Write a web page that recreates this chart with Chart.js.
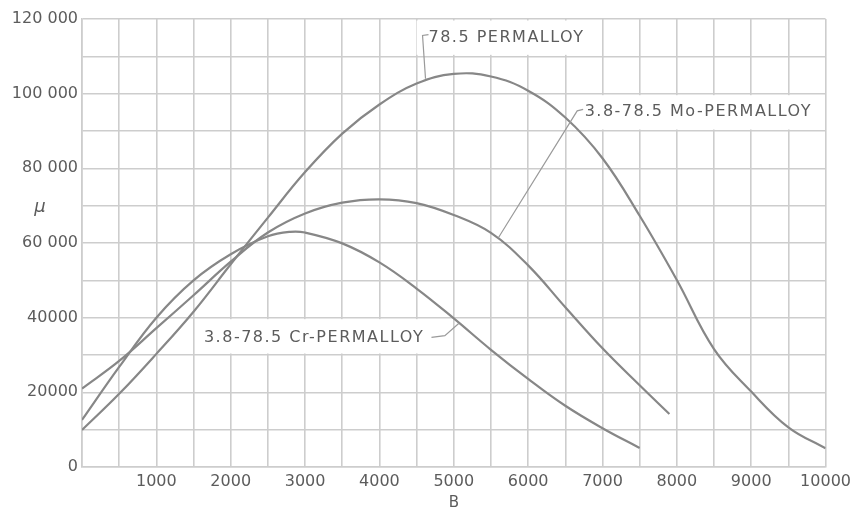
<!DOCTYPE html>
<html lang="en">
<head>
  <meta charset="UTF-8">
  <title>Permalloy permeability vs B</title>
  <style>
    body {
      margin: 0;
      background-color: white;
    }
    #chart {
      display: block;
    }
  </style>
</head>
<body>
  <canvas id="chart" width="856" height="510"></canvas>

  <script src="https://cdn.jsdelivr.net/npm/chart.js"></script>
  <script>
    // values
    const permB = [0, 500, 1000, 1500, 2000, 2500, 3000, 3500, 4000, 4500, 5000, 5500, 6000, 6500, 7000, 7500, 8000, 8500, 9000, 9500, 10000];
    const permMu = [9900, 19600, 30300, 41600, 54300, 66800, 79000, 89300, 97100, 102700, 105300, 104600, 100800, 93600, 82700, 67300, 50100, 31600, 20200, 10600, 5000];

    const moB = [0, 500, 1000, 1500, 2000, 2500, 3000, 3500, 4000, 4500, 5000, 5500, 6000, 6500, 7000, 7500, 7900];
    const moMu = [21000, 28400, 37200, 46000, 55000, 62800, 67900, 70800, 71700, 70700, 67500, 62700, 54000, 42800, 31800, 21900, 14200];

    const crB = [0, 500, 1000, 1500, 2000, 2500, 2800, 3000, 3500, 4000, 4500, 5000, 5500, 6000, 6500, 7000, 7500];
    const crMu = [12600, 26800, 40000, 50000, 57000, 61800, 63000, 62800, 59900, 54800, 47800, 39800, 31400, 23600, 16400, 10400, 5100];

    const tickValuesX = [1000, 2000, 3000, 4000, 5000, 6000, 7000, 8000, 9000, 10000];
    const tickLabelsX = ['1000', '2000', '3000', '4000', '5000', '6000', '7000', '8000', '9000', '10000'];
    const tickValuesY = [0, 20000, 40000, 60000, 80000, 100000, 120000];
    const tickLabelsY = ['0', '20000', '40000', '60 000', '80 000', '100 000', '120 000'];

    const curveNames = ['78.5 PERMALLOY', '3.8-78.5 Mo-PERMALLOY', '3.8-78.5 Cr-PERMALLOY'];

    const lineColor = '#878787';
    const gridColor = '#cdcdcd';
    const textColor = '#5c5c5c';
    const fontFamily = '"DejaVu Sans", sans-serif';

    function toPoints(xs, ys) {
        return xs.map((x, i) => ({ x: x, y: ys[i] }));
    }

    // label boxes / leader lines, in data units
    const notes = [
        { text: curveNames[0], box: [4500, 110400, 6980, 119600], at: [4660, 115000],
          lead: [[4660, 115800], [4580, 115600], [4620, 104000]] },
        { text: curveNames[1], box: [6700, 90400, 9985, 99600], at: [6760, 95000],
          lead: [[6740, 95800], [6660, 95400], [5600, 61400]] },
        { text: curveNames[2], box: [1530, 30400, 4980, 39600], at: [1640, 34500],
          lead: [[4700, 34700], [4880, 35200], [5070, 38500]] }
    ];

    const notesPlugin = {
        id: 'notes',
        beforeDatasetsDraw(chart) {
            const ctx = chart.ctx;
            const xs = chart.scales.x, ys = chart.scales.y;
            ctx.save();
            ctx.fillStyle = 'white';
            notes.forEach(n => {
                const x1 = xs.getPixelForValue(n.box[0]), x2 = xs.getPixelForValue(n.box[2]);
                const y1 = ys.getPixelForValue(n.box[3]), y2 = ys.getPixelForValue(n.box[1]);
                ctx.fillRect(x1, y1, x2 - x1, y2 - y1);
            });
            ctx.restore();
        },
        afterDatasetsDraw(chart) {
            const ctx = chart.ctx;
            const xs = chart.scales.x, ys = chart.scales.y;
            ctx.save();
            ctx.strokeStyle = '#9a9a9a';
            ctx.lineWidth = 1.2;
            notes.forEach(n => {
                ctx.beginPath();
                n.lead.forEach((p, i) => {
                    const px = xs.getPixelForValue(p[0]), py = ys.getPixelForValue(p[1]);
                    if (i === 0) ctx.moveTo(px, py); else ctx.lineTo(px, py);
                });
                ctx.stroke();
            });
            ctx.fillStyle = textColor;
            ctx.font = '16px ' + fontFamily;
            ctx.letterSpacing = '1.5px';
            ctx.textBaseline = 'middle';
            ctx.textAlign = 'left';
            notes.forEach(n => {
                ctx.fillText(n.text, xs.getPixelForValue(n.at[0]), ys.getPixelForValue(n.at[1]));
            });
            ctx.restore();
        },
        afterDraw(chart) {
            const ctx = chart.ctx;
            const xs = chart.scales.x, ys = chart.scales.y;
            ctx.save();
            ctx.fillStyle = textColor;
            ctx.textAlign = 'center';
            ctx.textBaseline = 'middle';
            ctx.font = 'italic 18px ' + fontFamily;
            ctx.fillText('\u03BC', 40, ys.getPixelForValue(69500));
            ctx.font = '15px ' + fontFamily;
            ctx.fillText('B', xs.getPixelForValue(5000), 503);
            ctx.restore();
        }
    };

    const ctx = document.getElementById('chart').getContext('2d');

    const chart = new Chart(ctx, {
        type: 'scatter',
        data: {
            datasets: [
                { label: curveNames[0], data: toPoints(permB, permMu) },
                { label: curveNames[1], data: toPoints(moB, moMu) },
                { label: curveNames[2], data: toPoints(crB, crMu) }
            ].map(d => Object.assign(d, {
                showLine: true,
                borderColor: lineColor,
                borderWidth: 2.2,
                pointRadius: 0,
                tension: 0.4
            }))
        },
        options: {
            responsive: false,
            animation: false,
            layout: { padding: { top: 19, right: 30, left: 0, bottom: 0 } },
            plugins: {
                legend: { display: false },
                tooltip: { enabled: false }
            },
            scales: {
                x: {
                    type: 'linear',
                    min: 0,
                    max: 10000,
                    afterFit: s => { s.height = 43; },
                    grid: { color: gridColor, lineWidth: 1.6, drawTicks: false },
                    border: { color: gridColor, width: 1.6 },
                    ticks: {
                        stepSize: 500,
                        autoSkip: false,
                        maxRotation: 0,
                        padding: 5,
                        color: textColor,
                        font: { family: fontFamily, size: 16 },
                        callback: v => {
                            const i = tickValuesX.indexOf(v);
                            return i >= 0 ? tickLabelsX[i] : '';
                        }
                    }
                },
                y: {
                    min: 0,
                    max: 120000,
                    afterFit: s => { s.width = 82; },
                    grid: { color: gridColor, lineWidth: 1.6, drawTicks: false },
                    border: { color: gridColor, width: 1.6 },
                    ticks: {
                        stepSize: 10000,
                        autoSkip: false,
                        padding: 4,
                        color: textColor,
                        font: { family: fontFamily, size: 16 },
                        callback: v => {
                            const i = tickValuesY.indexOf(v);
                            return i >= 0 ? tickLabelsY[i] : '';
                        }
                    }
                }
            }
        },
        plugins: [notesPlugin]
    });
  </script>
</body>
</html>
